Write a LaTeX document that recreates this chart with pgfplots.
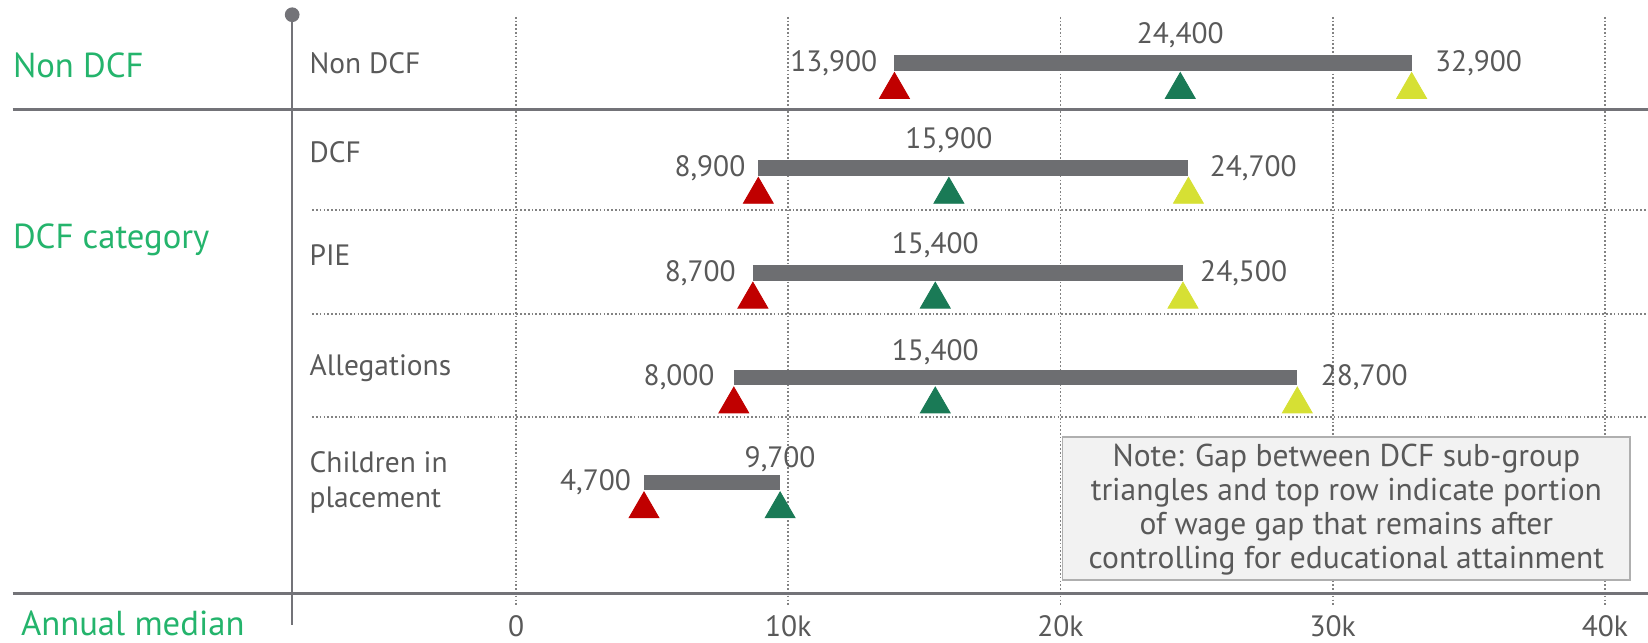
\documentclass[border=0pt]{standalone}
\usepackage{pgfplots}
\pgfplotsset{compat=1.18}
\usepackage{pgfplotstable}
\usepackage{fontspec}
\setmainfont{PT Sans}
\definecolor{barGray}{RGB}{109,110,113}
\definecolor{mkRed}{RGB}{192,0,0}
\definecolor{mkGreen}{RGB}{26,122,86}
\definecolor{mkYellow}{RGB}{214,224,52}
\definecolor{txtGray}{RGB}{89,89,89}
\definecolor{lblGreen}{RGB}{36,180,108}
\definecolor{lineGray}{RGB}{115,115,120}
\definecolor{gridGray}{RGB}{130,130,130}
\definecolor{boxFill}{RGB}{242,242,242}
\definecolor{boxDraw}{RGB}{175,175,175}

\pgfplotstableread{
y lo mid hi
4 13900 24400 32900
3 8900 15900 24700
2 8700 15400 24500
1 8000 15400 28700
0 4700 9700 nan
}\rangedata

\begin{document}
\begin{tikzpicture}[font=\fontsize{14}{16}\selectfont]
\begin{axis}[
  scale only axis, width=784pt, height=305.5pt,
  xmin=-18958, xmax=41583, ymin=-1.5238, ymax=4.6015,
  axis lines=none, ticks=none, clip=false,
  barline/.style={color=barGray, line width=7.5pt, line cap=butt, forget plot},
  tri/.style={only marks, mark=triangle*, mark size=8.2pt, forget plot},
]
% vertical dotted grid
\foreach \gx in {0,10000,20000,30000,40000}{
  \edef\tmp{\noexpand\draw[gridGray, densely dotted, line width=0.8pt] (axis cs:\gx,4.441) -- (axis cs:\gx,-1.183);}
  \tmp
}
% dotted row separators
\draw[gridGray, densely dotted, line width=0.8pt] (axis cs:-7490,2.596) -- (axis cs:41583,2.596);
\draw[gridGray, densely dotted, line width=0.8pt] (axis cs:-7490,1.604) -- (axis cs:41583,1.604);
\draw[gridGray, densely dotted, line width=0.8pt] (axis cs:-7490,0.6216) -- (axis cs:41583,0.6216);
% solid lines
\draw[lineGray, line width=1.3pt] (axis cs:-18494,3.559) -- (axis cs:41583,3.559);
\draw[lineGray, line width=1.3pt] (axis cs:-18494,-1.0627) -- (axis cs:41583,-1.0627);
\draw[lineGray, line width=1.1pt] (axis cs:-8224,4.461) -- (axis cs:-8224,-1.363);
\fill[lineGray] (axis cs:-8224,4.461) circle[radius=3.5pt];
% note box
\draw[boxDraw, fill=boxFill, line width=0.8pt] (axis cs:20077,0.431) rectangle (axis cs:40927,-0.932);
\node[txtGray, align=center, font=\fontsize{15}{16.2}\selectfont] at (axis cs:30502,-0.262)
  {Note: Gap between DCF sub-group\\triangles and top row indicate portion\\of wage gap that remains after\\controlling for educational attainment};
% bars
\addplot[barline] coordinates {(13900,4) (32900,4)};
\addplot[barline] coordinates {(8900,3) (24700,3)};
\addplot[barline] coordinates {(8700,2) (24500,2)};
\addplot[barline] coordinates {(8000,1) (28700,1)};
\addplot[barline] coordinates {(4700,0) (9700,0)};
% triangles
\addplot[tri, color=mkRed] table[x=lo, y expr=\thisrow{y}-0.255] {\rangedata};
\addplot[tri, color=mkGreen] table[x=mid, y expr=\thisrow{y}-0.255] {\rangedata};
\addplot[tri, color=mkYellow] table[x=hi, y expr=\thisrow{y}-0.255] {\rangedata};
% value labels
\begin{scope}[every node/.style={txtGray, inner sep=0pt}]
\node[anchor=east] at (axis cs:13900,4) [xshift=-8pt] {13,900};
\node at (axis cs:24400,4.265) {24,400};
\node[anchor=west] at (axis cs:32900,4) [xshift=11pt] {32,900};
\node[anchor=east] at (axis cs:8900,3) [xshift=-6pt] {8,900};
\node at (axis cs:15900,3.26) {15,900};
\node[anchor=west] at (axis cs:24700,3) [xshift=10pt] {24,700};
\node[anchor=east] at (axis cs:8700,2) [xshift=-8pt] {8,700};
\node at (axis cs:15400,2.26) {15,400};
\node[anchor=west] at (axis cs:24500,2) [xshift=8pt] {24,500};
\node[anchor=east] at (axis cs:8000,1) [xshift=-9pt] {8,000};
\node at (axis cs:15400,1.24) {15,400};
\node[anchor=west] at (axis cs:28700,1) [xshift=11pt] {28,700};
\node[anchor=east] at (axis cs:4700,0) [xshift=-6pt] {4,700};
\node at (axis cs:9700,0.225) {9,700};
% category labels
\node[anchor=west] at (axis cs:-7600,4.0) {Non DCF};
\node[anchor=west] at (axis cs:-7600,3.148) {DCF};
\node[anchor=west] at (axis cs:-7600,2.165) {PIE};
\node[anchor=west] at (axis cs:-7600,1.093) {Allegations};
\node[anchor=west, align=left, font=\fontsize{14}{17}\selectfont] at (axis cs:-7600,0.0) {Children in\\placement};
% tick labels
\node at (axis cs:0,-1.37) {0};
\node at (axis cs:10000,-1.37) {10k};
\node at (axis cs:20000,-1.37) {20k};
\node at (axis cs:30000,-1.37) {30k};
\node at (axis cs:40000,-1.37) {40k};
\end{scope}
% group labels
\begin{scope}[every node/.style={lblGreen, inner sep=0pt, anchor=west, font=\fontsize{16.5}{18}\selectfont}]
\node at (axis cs:-18494,3.98) {Non DCF};
\node at (axis cs:-18494,2.316) {DCF category};
\node at (axis cs:-18200,-1.34) {Annual median};
\end{scope}
\end{axis}
\pgfresetboundingbox
\path[use as bounding box] (current axis.south west) rectangle (current axis.north east);
\end{tikzpicture}
\end{document}
